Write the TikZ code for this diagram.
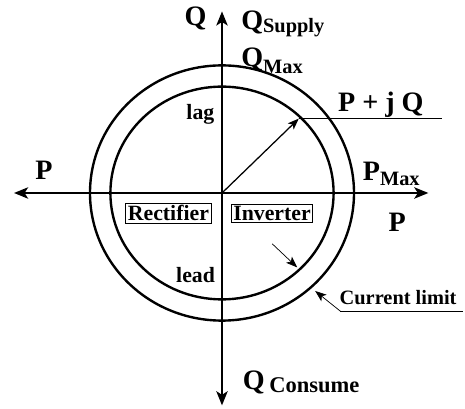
\documentclass[tikz,border=0pt]{standalone}
\usepackage{fontspec}
\setmainfont{Liberation Serif}
\usetikzlibrary{arrows.meta}
\newcommand{\qsubl}[3]{#1\raisebox{#3}{\fontsize{14.5}{15}\selectfont #2}}

\begin{document}
\begin{tikzpicture}[
  x=1cm,
  y=1cm,
  font=\bfseries\fontsize{20}{22}\selectfont,
  every node/.style={inner sep=1pt},
  axisline/.style={line width=1.8pt, {Stealth[length=10pt,width=8pt,inset=2.5pt]}-{Stealth[length=10pt,width=8pt,inset=2.5pt]}},
  ringline/.style={line width=1.7pt},
  leader/.style={line width=0.5pt},
  tagbox/.style={draw, line width=0.6pt, inner sep=1.5pt, font=\bfseries\fontsize{15.5}{17}\selectfont},
  smalllbl/.style={font=\bfseries\fontsize{15.5}{17}\selectfont},
  >={Stealth[length=8pt,width=6pt,inset=2pt]}
]
\useasboundingbox (-5.55,-5.4) rectangle (6.075,4.825);

\coordinate (orig) at (0,0);
\coordinate (qtop) at (0, 4.54);
\coordinate (qbot) at (0,-5.31);
\coordinate (pleft) at (-5.20,0);
\coordinate (pright) at (5.16,0);

% axes
\draw[axisline] (qbot) -- (qtop);
\draw[axisline] (pleft) -- (pright);

% current limit circles
\draw[ringline] (orig) ellipse [x radius=3.30, y radius=3.19];
\draw[ringline] (orig) ellipse [x radius=2.79, y radius=2.66];

% axis labels
\node (qlbl) at (-0.66, 4.36) {Q};
\node[anchor=base west] (qsup) at (0.44, 4.09) {\qsubl{Q}{Supply}{-2pt}};
\node[anchor=base west] (qmax) at (0.44, 3.17) {\qsubl{Q}{Max}{-5pt}};
\node[anchor=base west] (qcon) at (0.48,-4.91) {\qsubl{Q\,}{\fontsize{16}{16}\selectfont Consume}{-2pt}};
\node[anchor=base] (plft) at (-4.45, 0.34) {P};
\node[anchor=base west] (pmax) at (3.48, 0.30) {\qsubl{P}{Max}{-3pt}};
\node[anchor=base] (prgt) at (4.38,-0.955) {P};

\node[smalllbl, anchor=base] (lag) at (-0.54, 1.84) {lag};
\node[smalllbl, anchor=base] (lead) at (-0.66,-2.245) {lead};

\node[tagbox] (rect) at (-1.34,-0.51) {Rectifier};
\node[tagbox] (inv) at (1.25,-0.51) {Inverter};

% operating point
\coordinate (pqtip) at (1.92, 1.86);
\coordinate (pqend) at (5.51, 1.86);
\draw[->, line width=0.9pt] (orig) -- (pqtip);
\draw[line width=0.6pt] (pqtip) -- (pqend);
\node[anchor=base west] (pq) at (2.86, 2.045) {P + j Q};

% current limit leaders
\coordinate (innertail) at (1.255,-1.27);
\coordinate (innerhit) at (1.88,-1.86);
\draw[->, leader] (innertail) -- (innerhit);

\coordinate (outerhit) at (2.33,-2.45);
\coordinate (cltail) at (2.96,-2.955);
\coordinate (clend) at (6.025,-2.955);
\draw[->, leader] (cltail) -- (outerhit);
\draw[line width=0.6pt] (cltail) -- (clend);
\node[font=\bfseries\fontsize{14.5}{16}\selectfont, anchor=base west] (climit) at (2.90,-2.79) {Current limit};

\end{tikzpicture}
\end{document}
